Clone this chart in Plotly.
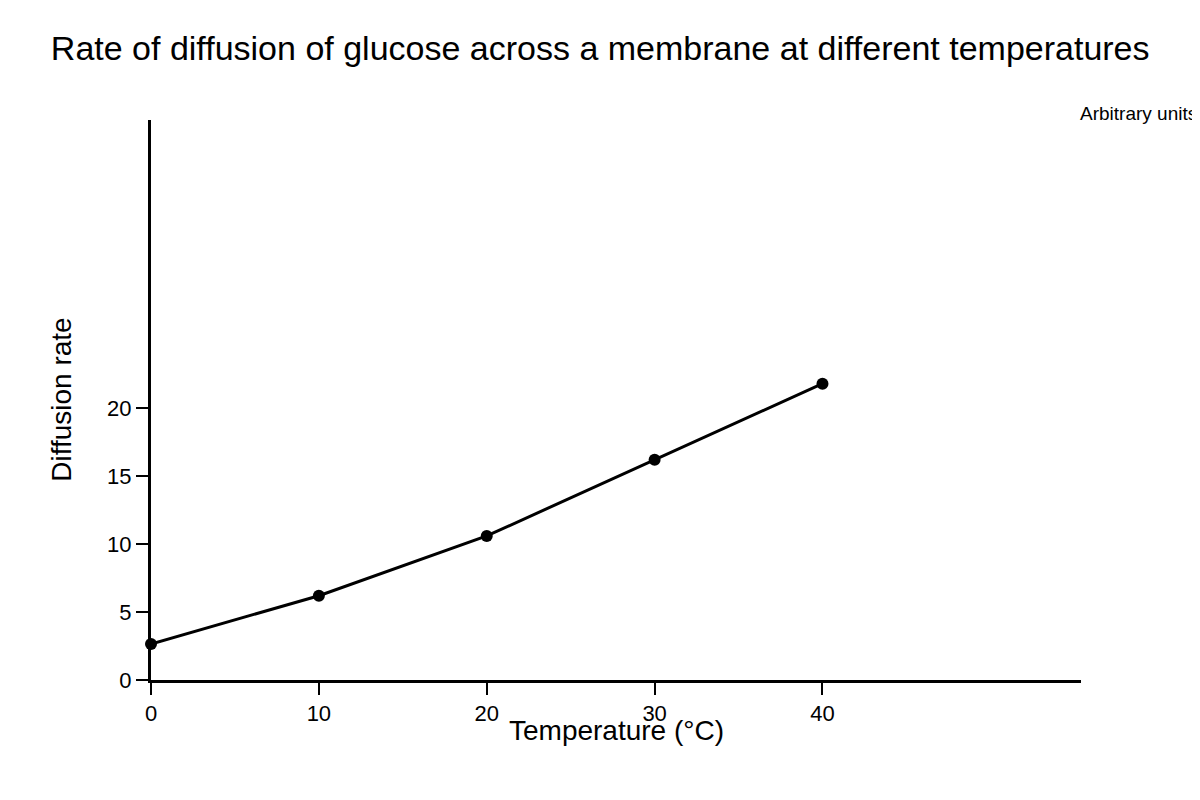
import plotly.graph_objects as go

temperature = [0, 10, 20, 30, 40]
diffusion_rate = [2.65, 6.2, 10.6, 16.2, 21.8]
y_ticks = [0, 5, 10, 15, 20]
x_ticks = [0, 10, 20, 30, 40]

font = "Liberation Sans, Arial, sans-serif"

fig = go.Figure()
fig.add_trace(go.Scatter(
    x=temperature, y=diffusion_rate, mode="lines+markers",
    line=dict(color="black", width=3),
    marker=dict(color="black", size=12),
    cliponaxis=False, showlegend=False,
))

fig.update_layout(
    width=1200, height=800,
    paper_bgcolor="white", plot_bgcolor="white",
    margin=dict(l=143, r=127, t=112, b=128),
    font=dict(family=font, color="black"),
    title=dict(text="Rate of diffusion of glucose across a membrane at different temperatures",
               x=0.4935, xanchor="center", y=0.95, yanchor="middle",
               font=dict(size=34)),
    xaxis=dict(range=[0, 55.4], tickvals=x_ticks, showgrid=False, zeroline=False,
               showline=True, linecolor="black", linewidth=3,
               ticks="outside", ticklen=12, tickwidth=2, tickcolor="black",
               tickfont=dict(size=22)),
    yaxis=dict(range=[0, 41.2], tickvals=y_ticks, showgrid=False, zeroline=False,
               showline=True, linecolor="black", linewidth=3,
               ticks="outside", ticklen=12, tickwidth=2, tickcolor="black",
               tickfont=dict(size=22)),
    annotations=[
        dict(text="Temperature (°C)", xref="paper", yref="paper", x=0.5, y=-0.09,
             xanchor="center", yanchor="middle", showarrow=False, font=dict(size=28)),
        dict(text="Diffusion rate", xref="paper", yref="paper", x=-0.097, y=0.5,
             xanchor="center", yanchor="middle", textangle=-90, showarrow=False,
             font=dict(size=28)),
        dict(text="Arbitrary units", xref="paper", yref="paper", x=0.997, y=1.0125,
             xanchor="left", yanchor="middle", showarrow=False, font=dict(size=19)),
    ],
)

fig.write_html("out.html")
